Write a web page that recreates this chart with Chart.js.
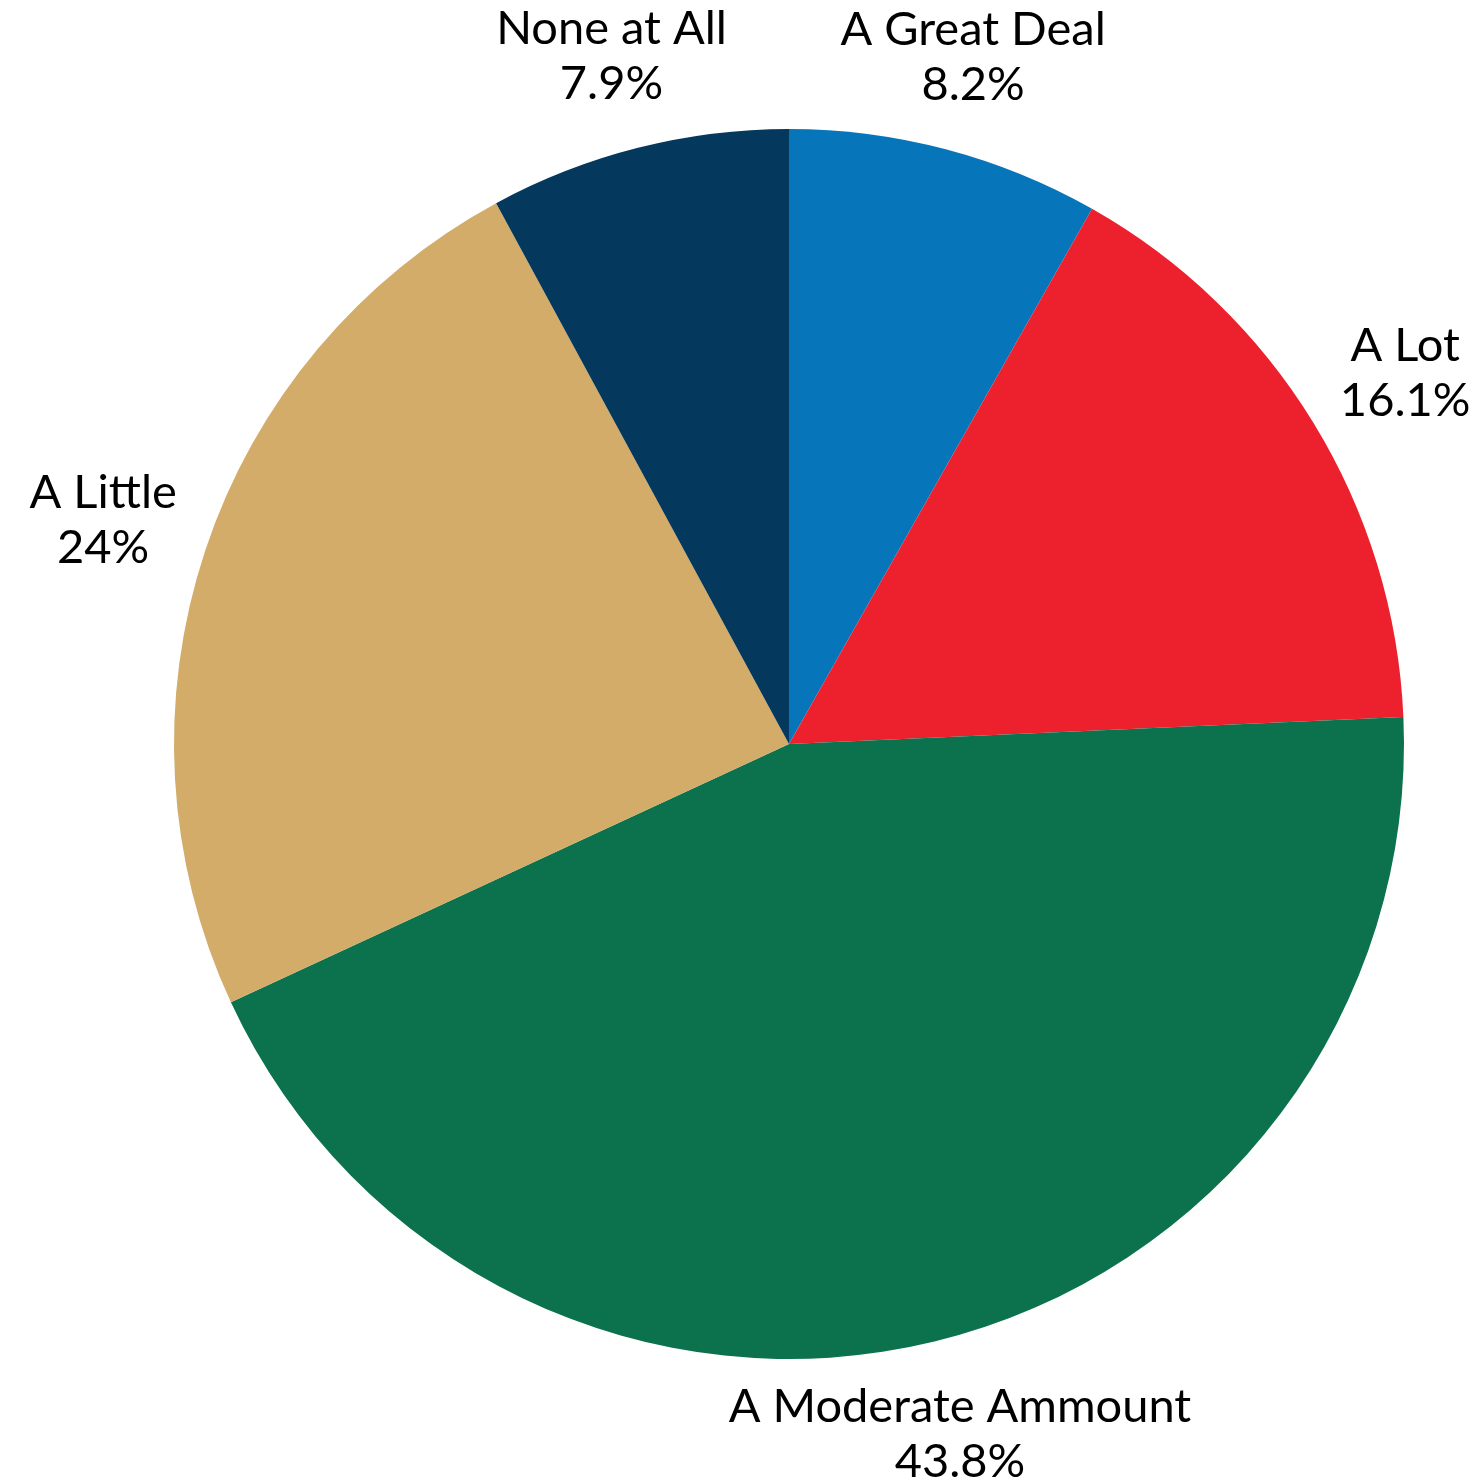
<!DOCTYPE html>
<html>
<head>
  <title>Pie Chart</title>
  <script src="https://cdn.jsdelivr.net/npm/chart.js"></script>
  <style>
    body { margin: 0; background: #fff; }
    canvas { display: block; }
  </style>
</head>
<body>
  <canvas id="pieChart" width="1473" height="1482"></canvas>
  <script>
    var labels = ['A Great Deal', 'A Lot', 'A Moderate Ammount', 'A Little', 'None at All'];
    var values = [8.2, 16.1, 43.8, 24, 7.9];
    var colors = ['#0775BA', '#EC212D', '#0C714D', '#D3AC69', '#04385C'];

    // labels sit outside each slice, two lines: name and percent
    var outsideLabels = {
      id: 'outsideLabels',
      afterDatasetsDraw: function(chart) {
        var ctx = chart.ctx;
        var arcs = chart.getDatasetMeta(0).data;
        ctx.save();
        ctx.fillStyle = '#000';
        ctx.textAlign = 'center';
        ctx.textBaseline = 'middle';
        ctx.font = '47px Lato, sans-serif';
        for (var i = 0; i < arcs.length; i++) {
          var a = arcs[i];
          var mid = (a.startAngle + a.endAngle) / 2;
          var x = a.x + Math.cos(mid) * a.outerRadius * 1.175;
          var y = a.y + Math.sin(mid) * a.outerRadius * 1.155;
          ctx.fillText(labels[i], x, y - 27);
          ctx.fillText(values[i] + '%', x, y + 28);
        }
        ctx.restore();
      }
    };

    var ctx = document.getElementById('pieChart').getContext('2d');
    new Chart(ctx, {
      type: 'pie',
      data: {
        labels: labels,
        datasets: [{
          data: values,
          backgroundColor: colors,
          borderWidth: 0
        }]
      },
      options: {
        responsive: false,
        animation: false,
        layout: { padding: { left: 174, right: 69, top: 129, bottom: 123 } },
        plugins: {
          legend: { display: false },
          tooltip: { enabled: false }
        }
      },
      plugins: [outsideLabels]
    });
  </script>
</body>
</html>
